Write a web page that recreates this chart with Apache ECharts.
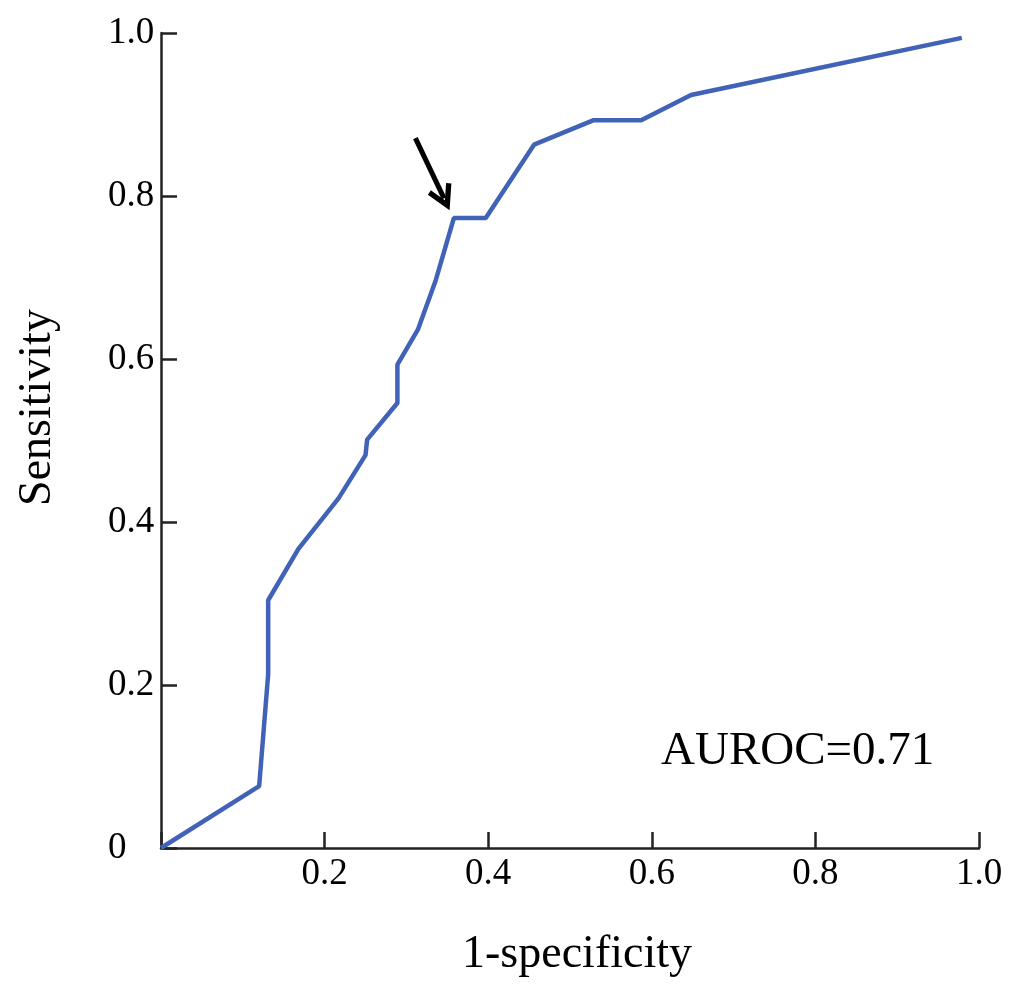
<!DOCTYPE html>
<html>
<head>
<meta charset="utf-8">
<script src="https://cdn.jsdelivr.net/npm/echarts@6/dist/echarts.min.js"></script>
<style>
  html, body { margin: 0; padding: 0; background: #fff; }
  #chart { width: 1009px; height: 989px; }
</style>
</head>
<body>
<div id="chart"></div>
<script>
// ROC curve points
const fpr = [0, 0.120, 0.131, 0.131, 0.168, 0.217, 0.250, 0.252, 0.289, 0.289, 0.314, 0.336, 0.358, 0.397, 0.456, 0.529, 0.587, 0.648, 0.979];
const tpr = [0, 0.076, 0.213, 0.304, 0.367, 0.429, 0.482, 0.501, 0.546, 0.593, 0.636, 0.697, 0.773, 0.773, 0.863, 0.893, 0.893, 0.924, 0.994];
// arrow pointing at the cut-off, in data units
const arrowFrom = [0.311, 0.871];
const arrowTo = [0.346, 0.797];
const aurocText = 'AUROC=0.71';

const FONT = 'Liberation Serif';
const AXIS_COLOR = '#222';

const chart = echarts.init(document.getElementById('chart'));

const axisCommon = {
  type: 'value',
  min: 0,
  max: 1,
  interval: 0.2,
  splitLine: { show: false },
  axisLine: { lineStyle: { color: AXIS_COLOR, width: 2.5 } },
  axisTick: { inside: true, length: 16, lineStyle: { color: AXIS_COLOR, width: 2.5 } },
  nameLocation: 'middle',
  nameTextStyle: { fontFamily: FONT, fontSize: 46, color: '#000' },
};

chart.setOption({
  animation: false,
  backgroundColor: '#fff',
  grid: { left: 161, top: 33, width: 818, height: 815 },
  xAxis: {
    ...axisCommon,
    name: '1-specificity',
    nameGap: 84,
    nameTextStyle: { ...axisCommon.nameTextStyle, padding: [0, 0, 0, 14] },
    axisLabel: {
      fontFamily: FONT,
      fontSize: 37,
      color: '#000',
      margin: 8,
      formatter(v) {
        return v === 0 ? '' : v.toFixed(1);
      },
    },
  },
  yAxis: {
    ...axisCommon,
    name: 'Sensitivity',
    nameRotate: 90,
    nameGap: 100,
    nameTextStyle: { ...axisCommon.nameTextStyle, padding: [0, 0, 0, 66] },
    axisLabel: {
      fontFamily: FONT,
      fontSize: 37,
      color: '#000',
      align: 'left',
      margin: 53,
      formatter(v) {
        return v === 0 ? '0' : v.toFixed(1);
      },
    },
  },
  graphic: [
    {
      type: 'text',
      left: 661,
      top: 728,
      style: { text: aurocText, fontFamily: FONT, fontSize: 47, fill: '#000' },
    },
  ],
  series: [
    {
      type: 'line',
      data: fpr.map((x, i) => [x, tpr[i]]),
      symbol: 'none',
      lineStyle: { color: '#4062B7', width: 4.5 },
      markLine: {
        silent: true,
        symbol: ['none', 'path://M10,0 L20,17 L16.5,19 L10,8 L3.5,19 L0,17 Z'],
        symbolSize: [26, 26],
        label: { show: false },
        lineStyle: { color: '#000', width: 5, type: 'solid' },
        data: [[{ coord: arrowFrom }, { coord: arrowTo }]],
      },
    },
  ],
});
</script>
</body>
</html>
